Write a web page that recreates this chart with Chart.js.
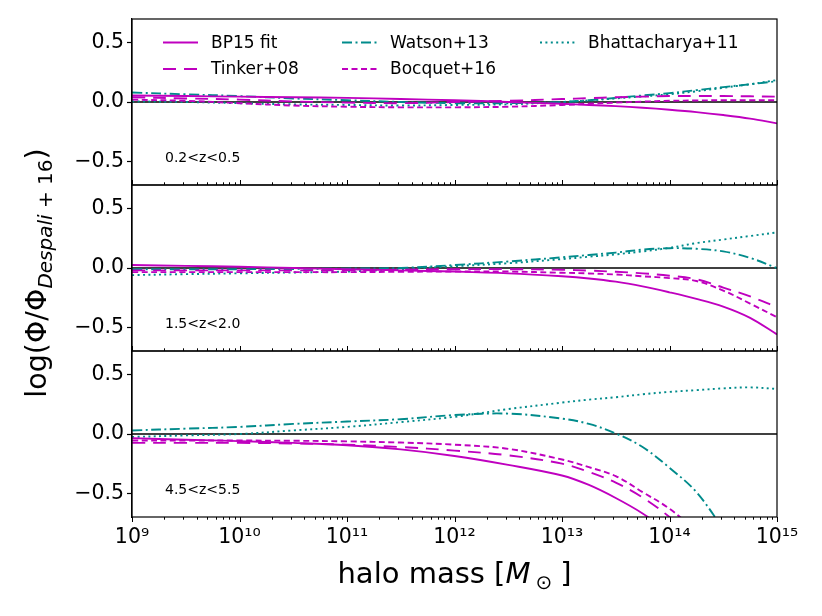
<!DOCTYPE html>
<html>
<head>
<meta charset="utf-8">
<script src="https://cdn.jsdelivr.net/npm/chart.js@4"></script>
<style>
  html, body { margin: 0; padding: 0; background: #fff; }
  #wrap { position: relative; width: 822px; height: 616px; }
  #wrap canvas { position: absolute; left: 0; top: 0; }
</style>
</head>
<body>
<div id="wrap">
  <canvas id="p1" width="822" height="616"></canvas>
  <canvas id="p2" width="822" height="616"></canvas>
  <canvas id="p3" width="822" height="616"></canvas>
</div>
<script>
const massGrid = [1e9, 3.16e9, 1e10, 3.16e10, 1e11, 3.16e11, 1e12, 3.16e12, 1e13, 1.78e13, 3.16e13, 5.62e13, 1e14, 1.78e14, 3.16e14, 5.62e14, 1e15];
const seriesNames = ['BP15 fit', 'Tinker+08', 'Watson+13', 'Bocquet+16', 'Bhattacharya+11'];
const panelLabels = ['0.2<z<0.5', '1.5<z<2.0', '4.5<z<5.5'];
const yTickValues = [-0.5, 0, 0.5];
const xTickDecades = [1e9, 1e10, 1e11, 1e12, 1e13, 1e14, 1e15];
const xTickLabels = ['10⁹', '10¹⁰', '10¹¹', '10¹²', '10¹³', '10¹⁴', '10¹⁵'];

// 0.2 < z < 0.5
const bp15_z02    = [0.055, 0.05, 0.045, 0.04, 0.035, 0.025, 0.015, 0.0, -0.015, -0.025, -0.035, -0.048, -0.065, -0.085, -0.11, -0.14, -0.18];
const tinker_z02  = [0.04, 0.03, 0.02, 0.005, -0.005, -0.01, 0.0, 0.01, 0.025, 0.032, 0.04, 0.045, 0.05, 0.05, 0.05, 0.048, 0.045];
const watson_z02  = [0.08, 0.065, 0.05, 0.03, 0.015, 0.0, -0.01, -0.01, 0.0, 0.015, 0.035, 0.055, 0.075, 0.1, 0.125, 0.15, 0.175];
const bocquet_z02 = [0.02, 0.01, -0.01, -0.03, -0.04, -0.045, -0.045, -0.04, -0.025, -0.015, -0.005, 0.003, 0.01, 0.013, 0.015, 0.015, 0.015];
const bhatt_z02   = [0.005, 0.0, -0.01, -0.02, -0.025, -0.03, -0.025, -0.02, 0.0, 0.013, 0.03, 0.047, 0.065, 0.09, 0.12, 0.15, 0.185];

// 1.5 < z < 2.0
const bp15_z15    = [0.025, 0.018, 0.01, 0.0, -0.01, -0.02, -0.03, -0.045, -0.07, -0.088, -0.115, -0.155, -0.205, -0.26, -0.325, -0.42, -0.56];
const tinker_z15  = [-0.02, -0.02, -0.02, -0.02, -0.02, -0.015, -0.01, -0.01, -0.015, -0.022, -0.032, -0.045, -0.065, -0.095, -0.165, -0.24, -0.33];
const watson_z15  = [-0.01, -0.01, -0.01, -0.008, -0.005, 0.0, 0.025, 0.055, 0.09, 0.11, 0.13, 0.155, 0.167, 0.162, 0.14, 0.085, 0.0];
const bocquet_z15 = [-0.035, -0.035, -0.035, -0.035, -0.035, -0.032, -0.03, -0.03, -0.04, -0.046, -0.055, -0.07, -0.085, -0.11, -0.19, -0.3, -0.415];
const bhatt_z15   = [-0.06, -0.052, -0.045, -0.038, -0.03, -0.01, 0.015, 0.04, 0.075, 0.095, 0.115, 0.14, 0.17, 0.21, 0.24, 0.27, 0.3];

// 4.5 < z < 5.5
const bp15_z45    = [-0.035, -0.048, -0.06, -0.075, -0.095, -0.13, -0.185, -0.26, -0.35, -0.43, -0.54, -0.67, -0.83, null, null, null, null];
const tinker_z45  = [-0.075, -0.075, -0.075, -0.08, -0.09, -0.11, -0.14, -0.18, -0.25, -0.32, -0.41, -0.535, -0.7, -0.9, null, null, null];
const watson_z45  = [0.03, 0.045, 0.06, 0.085, 0.105, 0.125, 0.16, 0.172, 0.13, 0.085, 0.005, -0.11, -0.285, -0.49, -0.8, null, null];
const bocquet_z45 = [-0.055, -0.055, -0.055, -0.057, -0.062, -0.072, -0.09, -0.125, -0.215, -0.28, -0.355, -0.49, -0.63, -0.82, null, null, null];
const bhatt_z45   = [-0.025, -0.012, 0.0, 0.03, 0.06, 0.1, 0.145, 0.21, 0.265, 0.29, 0.31, 0.335, 0.355, 0.37, 0.385, 0.393, 0.38];

const MAG = '#bf00bf';
const TEAL = '#008b8b';
const FONT = '"DejaVu Sans"';
const seriesStyle = [
  { color: MAG,  dash: [] },
  { color: MAG,  dash: [13, 8] },
  { color: TEAL, dash: [10, 3.5, 2, 3.5] },
  { color: MAG,  dash: [6, 3.5] },
  { color: TEAL, dash: [2, 3.4] }
];

const panels = [
  { id: 'p1', top: 19,  bottom: 185, label: panelLabels[0], legend: true,
    series: [bp15_z02, tinker_z02, watson_z02, bocquet_z02, bhatt_z02] },
  { id: 'p2', top: 185, bottom: 351, label: panelLabels[1], yTitle: true,
    series: [bp15_z15, tinker_z15, watson_z15, bocquet_z15, bhatt_z15] },
  { id: 'p3', top: 351, bottom: 517, label: panelLabels[2], xTitle: true, last: true,
    series: [bp15_z45, tinker_z45, watson_z45, bocquet_z45, bhatt_z45] }
];

function drawParts(ctx, parts, cx, cy) {
  // parts: [text, font, dy, gapAfter]
  let total = 0;
  parts.forEach(p => { ctx.font = p[1]; total += ctx.measureText(p[0]).width + (p[3] || 0); });
  let x = cx - total / 2;
  parts.forEach(p => {
    ctx.font = p[1];
    ctx.fillText(p[0], x, cy + p[2]);
    x += ctx.measureText(p[0]).width + (p[3] || 0);
  });
}

const deco = {
  id: 'deco',
  afterDraw(chart, args, o) {
    const ctx = chart.ctx, a = chart.chartArea, xs = chart.scales.x;
    ctx.save();
    ctx.strokeStyle = '#000';
    ctx.fillStyle = '#000';

    // log ticks on the bottom edge
    ctx.lineWidth = 1;
    xTickDecades.forEach(d => {
      for (let m = 1; m <= 9; m++) {
        if (d * m > 1.0001e15) break;
        const px = Math.round(xs.getPixelForValue(d * m)) + 0.5;
        const len = m === 1 ? 5 : 2.7;
        ctx.beginPath();
        ctx.moveTo(px, a.bottom);
        ctx.lineTo(px, o.ticksDown ? a.bottom + len : a.bottom - len);
        ctx.stroke();
      }
    });

    // frame
    ctx.lineWidth = 1.2;
    ctx.strokeRect(a.left, a.top, a.right - a.left, a.bottom - a.top);

    // redshift label
    ctx.font = '14px ' + FONT;
    ctx.textAlign = 'left';
    ctx.textBaseline = 'alphabetic';
    ctx.fillText(o.label, a.left + 33, a.bottom - 23);

    if (o.legend) {
      const spots = [[163, 42.5], [163, 69], [342, 42.5], [342, 69], [540, 42.5]];
      ctx.font = '17px ' + FONT;
      ctx.textBaseline = 'middle';
      spots.forEach(([x, y], k) => {
        const ds = chart.data.datasets[k];
        ctx.strokeStyle = ds.borderColor;
        ctx.lineWidth = ds.borderWidth;
        ctx.setLineDash(ds.borderDash);
        ctx.beginPath();
        ctx.moveTo(x, y);
        ctx.lineTo(x + 35, y);
        ctx.stroke();
        ctx.setLineDash([]);
        ctx.fillText(ds.label, x + 48, y + 1);
      });
      ctx.textBaseline = 'alphabetic';
    }

    if (o.yTitle) {
      ctx.save();
      ctx.translate(46, 273);
      ctx.rotate(-Math.PI / 2);
      drawParts(ctx, [
        ['log(Φ/Φ', '28.5px ' + FONT, 0, 0],
        ['Despali', 'italic 20px ' + FONT, 6, 0],
        [' + 16', '20px ' + FONT, 6, 0],
        [')', '28.5px ' + FONT, 0, 0]
      ], 0, 0);
      ctx.restore();
    }

    if (o.xTitle) {
      drawParts(ctx, [
        ['halo mass [', '29px ' + FONT, 0, 0],
        ['M', 'italic 29px ' + FONT, 0, 5],
        ['⊙', '20px ' + FONT, 6, 8],
        [']', '29px ' + FONT, 0, 0]
      ], (a.left + a.right) / 2, 583);
    }
    ctx.restore();
  }
};

const fmtY = v => v === 0 ? '0.0' : (v < 0 ? '\u2212' : '') + Math.abs(v).toFixed(1);

panels.forEach(p => {
  const datasets = p.series.map((vals, k) => ({
    label: seriesNames[k],
    data: massGrid.map((m, i) => ({ x: m, y: vals[i] })),
    borderColor: seriesStyle[k].color,
    borderDash: seriesStyle[k].dash,
    borderWidth: 1.9,
    pointRadius: 0,
    tension: 0.35,
    fill: false,
    clip: 0
  }));
  datasets.push({
    label: 'zero',
    data: [{ x: 1e9, y: 0 }, { x: 1e15, y: 0 }],
    borderColor: '#000',
    borderWidth: 1.5,
    pointRadius: 0,
    clip: 0
  });

  new Chart(document.getElementById(p.id), {
    type: 'line',
    data: { datasets },
    options: {
      responsive: false,
      animation: false,
      events: [],
      layout: { padding: { left: 0, right: 45, top: p.top, bottom: p.last ? 0 : 616 - p.bottom } },
      scales: {
        x: {
          type: 'logarithmic',
          min: 1e9,
          max: 1e15,
          display: !!p.last,
          grid: { display: false, drawTicks: true, tickLength: 5 },
          border: { display: false },
          afterBuildTicks: s => { s.ticks = xTickDecades.map(v => ({ value: v })); },
          afterFit: s => { if (p.last) s.height = 616 - p.bottom; },
          ticks: {
            autoSkip: false,
            maxRotation: 0,
            color: '#000',
            padding: 3,
            font: { family: 'DejaVu Sans', size: 20.5 },
            callback: (v, i) => xTickLabels[i]
          }
        },
        y: {
          type: 'linear',
          min: -0.7,
          max: 0.7,
          afterBuildTicks: s => { s.ticks = yTickValues.map(v => ({ value: v })); },
          afterFit: s => { s.width = 132; },
          grid: { drawOnChartArea: false, tickLength: 5, color: '#000', tickWidth: 1.2 },
          border: { color: '#000', width: 1.2 },
          ticks: {
            color: '#000',
            padding: 3,
            font: { family: 'DejaVu Sans', size: 20.5 },
            callback: fmtY
          }
        }
      },
      plugins: {
        legend: { display: false },
        tooltip: { enabled: false },
        deco: {
          label: p.label,
          legend: !!p.legend,
          yTitle: !!p.yTitle,
          xTitle: !!p.xTitle,
          ticksDown: !!p.last
        }
      }
    },
    plugins: [deco]
  });
});
</script>
</body>
</html>
